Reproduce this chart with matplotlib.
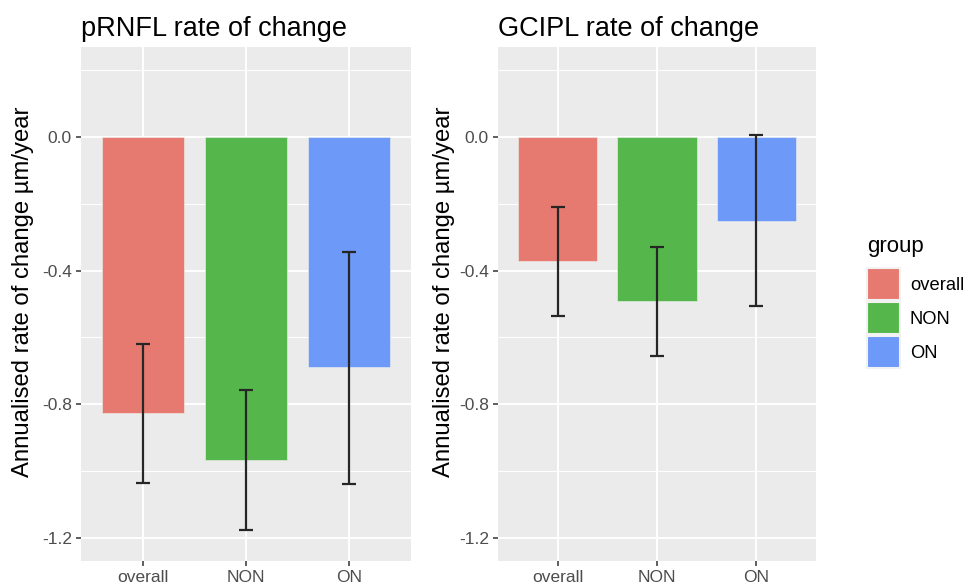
import numpy as np
import matplotlib
matplotlib.use("Agg")
import matplotlib.pyplot as plt
from matplotlib.patches import Patch

# === DADOS ===
groups = ["overall", "NON", "ON"]

prnfl_rate = [-0.828, -0.966, -0.690]
prnfl_lo = [-1.037, -1.176, -1.038]
prnfl_hi = [-0.621, -0.757, -0.344]

gcipl_rate = [-0.371, -0.492, -0.252]
gcipl_lo = [-0.535, -0.655, -0.505]
gcipl_hi = [-0.208, -0.330, 0.005]

COLORS = ["#E67A70", "#55B74B", "#6D99F8"]
PANEL_BG = "#EBEBEB"

plt.rcParams.update({
    "font.family": ["Liberation Sans", "DejaVu Sans"],
})

fig = plt.figure(figsize=(9.63, 5.87), dpi=100)

panels = [
    ("pRNFL rate of change", prnfl_rate, prnfl_lo, prnfl_hi, [0.0841, 0.0443, 0.3427, 0.8757], -0.142),
    ("GCIPL rate of change", gcipl_rate, gcipl_lo, gcipl_hi, [0.5171, 0.0443, 0.3303, 0.8757], -0.135),
]

for title, rate, lo, hi, rect, lab_x in panels:
    ax = fig.add_axes(rect)
    ax.set_facecolor(PANEL_BG)
    x = np.arange(1, len(groups) + 1)

    # grelha estilo ggplot
    for yv in [0.2, -0.2, -0.6, -1.0]:
        ax.axhline(yv, color="white", lw=0.7, zorder=0)
    for yv in [0.0, -0.4, -0.8, -1.2]:
        ax.axhline(yv, color="white", lw=1.4, zorder=0)
    for xv in x:
        ax.axvline(xv, color="white", lw=1.4, zorder=0)

    ax.bar(x, rate, width=0.8, color=COLORS, edgecolor="#F0F0F0",
           linewidth=0.4, zorder=2)

    rate_a = np.array(rate)
    yerr = [rate_a - np.array(lo), np.array(hi) - rate_a]
    ax.errorbar(x, rate, yerr=yerr, fmt="none", ecolor="#262626",
                elinewidth=1.6, capsize=5, capthick=1.6, zorder=3)

    ax.set_xlim(0.4, 3.6)
    ax.set_ylim(-1.27, 0.27)
    ax.set_xticks(x)
    ax.set_xticklabels(groups)
    ax.set_yticks([0.0, -0.4, -0.8, -1.2])
    ax.set_yticklabels(["0.0", "-0.4", "-0.8", "-1.2"])
    ax.tick_params(axis="both", length=3.5, width=1.1, color="#333333",
                   labelsize=12.5, labelcolor="#4D4D4D", pad=3)
    for s in ax.spines.values():
        s.set_visible(False)

    ax.set_ylabel("Annualised rate of change µm/year", fontsize=17.2,
                  color="black")
    ax.yaxis.set_label_coords(lab_x, 0.523)
    ax.set_title(title, loc="left", fontsize=19.5, pad=8)

# legenda: título separado para acertar o espaçamento
fig.text(867 / 963, 1 - 252 / 587, "group", fontsize=16, va="baseline", ha="left")
handles = [Patch(facecolor=c, edgecolor="#F2F2F2", linewidth=1.5) for c in COLORS]
leg = fig.legend(handles, groups, loc="upper left",
                 bbox_to_anchor=(0.9, 1 - 268 / 587), frameon=False,
                 fontsize=13.2,
                 handlelength=1.8, handleheight=2.35, handletextpad=0.55,
                 labelspacing=0.08, borderaxespad=0, borderpad=0)

fig.savefig("out.png", dpi=100)
